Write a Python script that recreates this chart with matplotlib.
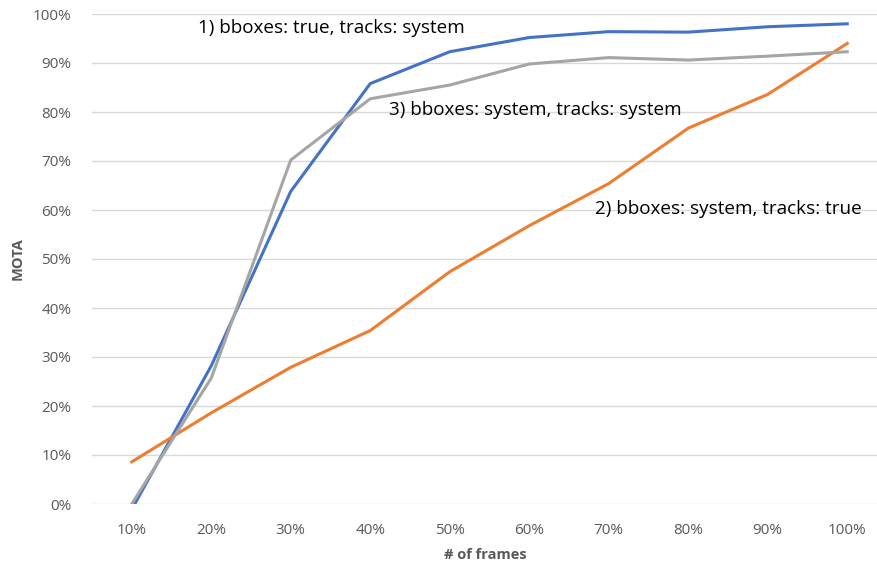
import matplotlib
matplotlib.use("Agg")
import matplotlib.pyplot as plt
from matplotlib.ticker import PercentFormatter

categories = ["10%", "20%", "30%", "40%", "50%", "60%", "70%", "80%", "90%", "100%"]
s1_true_bbox = [-0.011, 0.282, 0.638, 0.858, 0.923, 0.952, 0.964, 0.963, 0.974, 0.980]
s2_true_tracks = [0.086, 0.186, 0.279, 0.354, 0.474, 0.568, 0.654, 0.767, 0.836, 0.940]
s3_system = [0.0, 0.257, 0.702, 0.827, 0.855, 0.898, 0.911, 0.906, 0.914, 0.923]
labels = ["1) bboxes: true, tracks: system",
          "2) bboxes: system, tracks: true",
          "3) bboxes: system, tracks: system"]
y_ticks = [0.0, 0.1, 0.2, 0.3, 0.4, 0.5, 0.6, 0.7, 0.8, 0.9, 1.0]

plt.rcParams['font.family'] = ['Open Sans', 'DejaVu Sans']

W, H = 878, 565
fig = plt.figure(figsize=(W / 100, H / 100), dpi=100)
left, right, top, bottom = 92, 878, 14, 504
ax = fig.add_axes([left / W, (H - bottom) / H, (right - left) / W, (bottom - top) / H])

x = list(range(1, len(categories) + 1))
ax.plot(x, s1_true_bbox, color="#4472C4", lw=2.2, solid_joinstyle="round", zorder=3)
ax.plot(x, s2_true_tracks, color="#ED7D31", lw=2.2, solid_joinstyle="round", zorder=3)
ax.plot(x, s3_system, color="#A5A5A5", lw=2.2, solid_joinstyle="round", zorder=3)

ax.set_ylim(0, 1)
ax.set_xlim(0.5, 10.5 - 9 / 79.5)
ax.set_yticks(y_ticks)
ax.yaxis.set_major_formatter(PercentFormatter(1.0, decimals=0))
ax.set_xticks(x)
ax.set_xticklabels(categories)
ax.grid(axis="y", color="#D9D9D9", lw=1)
ax.set_axisbelow(True)
for s in ax.spines.values():
    s.set_visible(False)
ax.tick_params(length=0, colors="#595959", labelsize=11)
ax.tick_params(axis="y", pad=15)
ax.tick_params(axis="x", pad=14)

ax.set_xlabel("# of frames", fontsize=10.5, fontweight="bold", color="#595959", labelpad=7)
fig.text(18 / W, 1 - 259 / H, "MOTA", rotation=90, fontsize=10.5, fontweight="bold",
         color="#595959", ha="center", va="center")

txt_kw = dict(fontsize=13.6, color="black", va="center", ha="left")
ax.text(0.5 + (198 - left) / 79.5, (bottom - 28) / 490, labels[0], **txt_kw)
ax.text(0.5 + (389 - left) / 79.5, (bottom - 110) / 490, labels[2], **txt_kw)
ax.text(0.5 + (595 - left) / 79.5, (bottom - 209) / 490, labels[1], **txt_kw)

fig.savefig("out.png", dpi=100)
